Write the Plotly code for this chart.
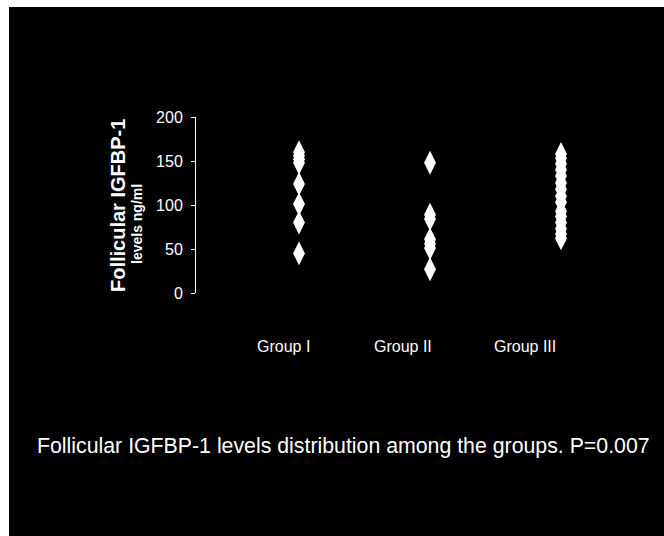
import plotly.graph_objects as go

# ---- data ----
groups = ["Group I", "Group II", "Group III"]
group_pos = [1, 2, 3]
group_i = [160, 156, 152, 148, 124, 101, 80, 45]
group_ii = [148, 89, 84, 61, 56, 51, 27]
group_iii = [158, 153, 147, 140, 133, 125, 118, 110, 103, 93, 87, 80, 73, 67, 62]
y_ticks = [0, 50, 100, 150, 200]
label_x = [0.885, 1.794, 2.725]
y_title_lines = ["Follicular IGFBP-1", "levels ng/ml"]
caption = "Follicular IGFBP-1 levels distribution among the groups. P=0.007"

W, H = 664, 536
L, R, T, B = 196, 24, 117, 243  # plot area 196..640 x 117..293
pw, ph = W - L - R, H - T - B

fig = go.Figure()
for pos, vals in zip(group_pos, [group_i, group_ii, group_iii]):
    fig.add_trace(go.Scatter(
        x=[pos] * len(vals), y=vals, mode="markers",
        marker=dict(symbol="diamond-tall", size=17, color="white", line=dict(width=0)),
        showlegend=False, hoverinfo="y"))

font = "Liberation Sans, Arial, sans-serif"
ann = []
# y-axis title lines
ann.append(dict(text="<b>" + y_title_lines[0] + "</b>", x=0, xref="paper", xshift=118 - L,
                y=0, yref="paper", yshift=293 - 206, textangle=-90, showarrow=False,
                xanchor="center", yanchor="middle", font=dict(family=font, size=20, color="white")))
ann.append(dict(text="<b>" + y_title_lines[1] + "</b>", x=0, xref="paper", xshift=137 - L,
                y=0, yref="paper", yshift=293 - 224, textangle=-90, showarrow=False,
                xanchor="center", yanchor="middle", font=dict(family=font, size=14, color="white")))
for g, lx in zip(groups, label_x):
    ann.append(dict(text=g, x=lx, xref="x", y=0, yref="paper", yshift=293 - 346,
                    showarrow=False, xanchor="center", yanchor="middle",
                    font=dict(family=font, size=16, color="white")))
ann.append(dict(text=caption, x=0, xref="paper", xshift=343 - L, y=0, yref="paper",
                yshift=293 - 446, showarrow=False, xanchor="center", yanchor="middle",
                font=dict(family=font, size=21.3, color="white")))

# white border strips (top and left)
shapes = [
    dict(type="rect", xref="paper", yref="paper", x0=(0 - L) / pw, x1=(9 - L) / pw,
         y0=(T + ph - H) / ph, y1=(T + ph) / ph, fillcolor="white", line=dict(width=0), layer="above"),
    dict(type="rect", xref="paper", yref="paper", x0=(0 - L) / pw, x1=(W - L) / pw,
         y0=(T + ph - 7) / ph, y1=(T + ph) / ph, fillcolor="white", line=dict(width=0), layer="above"),
]

fig.update_layout(
    width=W, height=H, margin=dict(l=L, r=R, t=T, b=B, autoexpand=False),
    paper_bgcolor="black", plot_bgcolor="black",
    xaxis=dict(range=[1 - 103 / 131, 3 + 79 / 131], showgrid=False, zeroline=False,
               showline=False, showticklabels=False, ticks=""),
    yaxis=dict(range=[0, 200], tickvals=y_ticks, showgrid=False, zeroline=False,
               showline=True, linecolor="white", linewidth=1, ticks="outside", ticklen=4,
               tickcolor="white", tickwidth=1, ticklabelstandoff=5,
               tickfont=dict(family=font, size=16, color="white")),
    annotations=ann, shapes=shapes, font=dict(family=font, color="white"),
)
fig.write_html("out.html", config={"displayModeBar": False},
               post_script="document.body.style.margin='0px';document.body.style.overflow='hidden';")
